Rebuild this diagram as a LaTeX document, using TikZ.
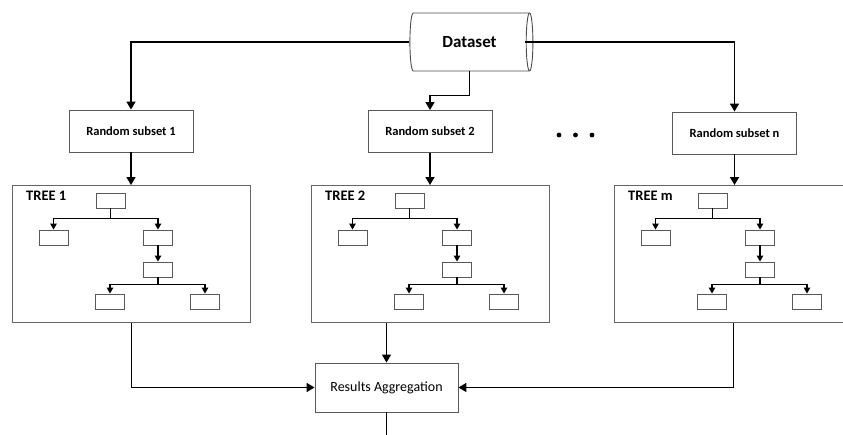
\documentclass[tikz,border=0pt]{standalone}
\usepackage{fontspec}
\setmainfont{Carlito}
\usetikzlibrary{arrows.meta,positioning,calc,shapes.geometric}

\begin{document}
\begin{tikzpicture}[x=1pt, y=-1pt,
    box/.style={draw=black!65, line width=0.9pt, fill=white, minimum width=124pt, minimum height=42pt, inner sep=0pt, font=\fontsize{12.5}{14}\selectfont\bfseries},
    treebox/.style={draw=black!60, line width=1pt, minimum width=238pt, minimum height=137pt, inner sep=0pt, anchor=north west},
    leaf/.style={draw=black!65, line width=0.9pt, minimum width=29pt, minimum height=15pt, inner sep=0pt},
    tlabel/.style={anchor=west, inner sep=0pt, font=\fontsize{14.5}{16}\selectfont\bfseries},
    arr/.style={-{Triangle[width=9pt,length=8pt]}, line width=1.6pt},
    tarr/.style={-{Triangle[width=6.5pt,length=6pt]}, line width=1.1pt},
    plain/.style={line width=1.6pt}
]
\useasboundingbox (0,0) rectangle (843,434);

% Dataset
\node[cylinder, draw=black!70, line width=0.9pt, minimum width=58pt, minimum height=123pt,
      aspect=0.6, inner sep=0pt, font=\fontsize{17}{19}\selectfont\bfseries] (data) at (469.5,42) {Dataset};

% Random subsets
\node[box] (rs1) at (131,131) {Random subset 1};
\node[box] (rs2) at (430,131.5) {Random subset 2};
\node[box] (rsn) at (734.5,133) {Random subset n};
\foreach \d in {0,1,2}
    \fill (559+\d*16.5,135) circle (2.4);

\draw[arr] (data.west) -| (rs1.north);
\draw[arr] ($(data.east)+(-8,0)$) -| (rsn.north);
\draw[arr] (data.south) -- ++(0,24) -| (rs2.north);

% Trees
\foreach \i/\name/\x in {1/1/12, 2/2/311, 3/m/614} {
    \node[treebox] (tree\i) at (\x,185) {};
    \node[tlabel] (lab\i) at (\x+14,196) {TREE \name};
    \node[leaf] (root\i) at (\x+98.5,200.5) {};
    \node[leaf] (left\i) at (\x+41.5,237.5) {};
    \node[leaf] (right\i) at (\x+146,237.5) {};
    \node[leaf] (mid\i) at (\x+146,269.5) {};
    \node[leaf] (lowl\i) at (\x+98,301.5) {};
    \node[leaf] (lowr\i) at (\x+193,301.5) {};
    \draw[tarr] (root\i.south) -- ++(0,10) -| (left\i.north);
    \draw[tarr] (root\i.south) -- ++(0,10) -| (right\i.north);
    \draw[tarr] (right\i.south) -- (mid\i.north);
    \draw[tarr] (mid\i.south) -- ++(0,7) -| (lowl\i.north);
    \draw[tarr] (mid\i.south) -- ++(0,7) -| (lowr\i.north);
}

\draw[arr] (rs1.south) -- (rs1.south |- tree1.north);
\draw[arr] (rs2.south) -- (rs2.south |- tree2.north);
\draw[arr] (rsn.south) -- (rsn.south |- tree3.north);

% Aggregation
\node[box, minimum width=143pt, minimum height=49pt, font=\fontsize{14}{16}\selectfont] (res) at (386.5,387.5) {Results Aggregation};
\coordinate (out) at (386.5,436);

\draw[arr] (tree1.south) |- (res.west);
\draw[arr] (tree3.south) |- (res.east);
\draw[arr, line width=1.2pt] (res.north |- tree2.south) -- (res.north);
\draw[plain] (res.south) -- (out);
\end{tikzpicture}
\end{document}
